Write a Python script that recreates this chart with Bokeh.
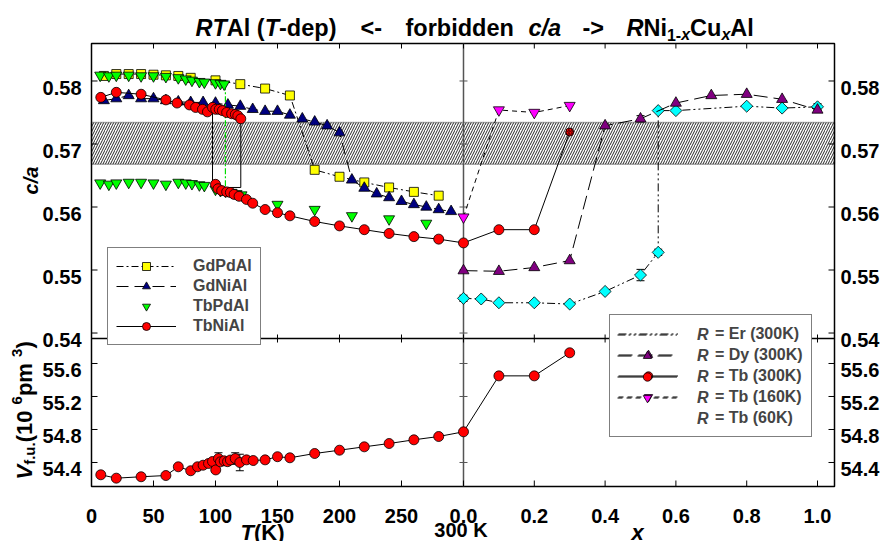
import math
from bokeh.plotting import figure
from bokeh.core.properties import value
from bokeh.models import (Range1d, BoxAnnotation, Legend, LegendItem,
                          ColumnDataSource, Whisker, TeeHead)
from bokeh.embed import file_html
from bokeh.resources import INLINE

# ---------------- data ----------------
# temperature dependence (left part, T in K), c/a
GDPDAL_T = [10, 20, 30, 40, 50, 60, 70, 80, 100, 120, 140, 160, 180, 200, 220, 240, 260, 280]
GDPDAL_CA = [0.5808, 0.5811, 0.5811, 0.5811, 0.5810, 0.5809, 0.5808, 0.5805, 0.5801, 0.5795,
             0.5788, 0.5777, 0.5659, 0.5648, 0.5639, 0.5631, 0.5624, 0.5618]
GDNIAL_T = [10, 20, 30, 40, 50, 60, 70, 80, 90, 100, 110, 120, 130, 140, 150, 160, 170, 180,
            190, 200, 210, 220, 230, 240, 250, 260, 270, 280, 290]
GDNIAL_CA = [0.5769, 0.5772, 0.5777, 0.5772, 0.5772, 0.5769, 0.5767, 0.5766, 0.5766, 0.5765,
             0.5762, 0.5760, 0.5755, 0.5752, 0.5752, 0.5746, 0.5740, 0.5735, 0.5729, 0.5718,
             0.5643, 0.5630, 0.5621, 0.5615, 0.5609, 0.5604, 0.5600, 0.5596, 0.5593]
TBPDAL_HI_T = [7, 14, 20, 30, 40, 50, 60, 70, 76, 81, 87, 91, 100, 104, 107]
TBPDAL_HI_CA = [0.5809, 0.5808, 0.5809, 0.5809, 0.5808, 0.5808, 0.5807, 0.5805, 0.5803, 0.5801,
                0.5799, 0.5798, 0.5797, 0.5796, 0.5795]
TBPDAL_LO_T = [7, 14, 20, 30, 40, 50, 60, 70, 76, 81, 87, 91, 100, 104, 108, 113, 117, 121,
               150, 180, 210, 240, 270]
TBPDAL_LO_CA = [0.5638, 0.5636, 0.5638, 0.5639, 0.5639, 0.5638, 0.5636, 0.5639, 0.5638, 0.5637,
                0.5635, 0.5634, 0.5628, 0.5626, 0.5625, 0.5623, 0.5621, 0.5619, 0.5604, 0.5596,
                0.5586, 0.5581, 0.5574]
TBPDAL_TRANS_T = [108, 108]
TBPDAL_TRANS_CA = [0.5795, 0.5620]
TBNIAL_HI_T = [7.5, 20, 40, 60, 69, 79, 84, 89.5, 93.5, 97.6, 100.2, 103, 105.6, 109, 113, 116,
               118, 120.4]
TBNIAL_HI_CA = [0.5774, 0.5782, 0.5779, 0.5770, 0.5765, 0.5762, 0.5758, 0.5755, 0.5751, 0.5758,
                0.5755, 0.5755, 0.5753, 0.5750, 0.5748, 0.5747, 0.5745, 0.5740]
TBNIAL_LO_T = [100, 102, 105, 109, 112, 115, 119, 125, 130, 140, 150, 160, 180, 200, 220, 240,
               260, 280]
TBNIAL_LO_CA = [0.5636, 0.5629, 0.5626, 0.5624, 0.5623, 0.5620, 0.5617, 0.5612, 0.5606, 0.5596,
                0.5591, 0.5586, 0.5577, 0.5570, 0.5564, 0.5558, 0.5553, 0.5549]
HYST_T = [97.6, 97.6, 120.4, 120.4]
HYST_CA = [0.5758, 0.5631, 0.5631, 0.5740]

# temperature dependence, volume per formula unit (10^6 pm^3)
TBNIAL_V_T = [7.5, 20, 40, 60, 70, 80, 85.5, 90, 94.4, 97.6, 100.2, 102.4, 104, 107, 109.7, 112,
              115.9, 119.6, 125, 130.4, 140, 150, 160, 180, 200, 220, 240, 260, 280]
TBNIAL_V = [54.251, 54.210, 54.227, 54.242, 54.348, 54.300, 54.348, 54.367, 54.388, 54.412,
            54.310, 54.448, 54.408, 54.420, 54.410, 54.430, 54.448, 54.400, 54.432, 54.424,
            54.432, 54.470, 54.457, 54.509, 54.549, 54.590, 54.630, 54.675, 54.715]
TBNIAL_V_ERR = [0, 0, 0, 0, 0, 0, 0, 0, 0, 0, 0, 0.07, 0, 0, 0, 0, 0.07, 0.1, 0, 0, 0, 0, 0, 0,
                0, 0, 0, 0, 0]

# composition dependence RNi(1-x)Cu(x)Al (right part, x)
ER_X = [0, 0.05, 0.1, 0.2, 0.3, 0.4, 0.5, 0.55, 0.55, 0.6, 0.8, 0.9, 1.0]
ER_CA = [0.5455, 0.5454, 0.5448, 0.5448, 0.5446, 0.5466, 0.5492, 0.5528, 0.5753, 0.5753,
         0.5760, 0.5757, 0.5759]
ER_ERR = [0.0005, 0, 0, 0, 0, 0, 0.0009, 0.0005, 0, 0, 0, 0, 0.0005]
DY_X = [0, 0.1, 0.2, 0.3, 0.4, 0.5, 0.6, 0.7, 0.8, 0.9, 1.0]
DY_CA = [0.5499, 0.5498, 0.5504, 0.5515, 0.5729, 0.5740, 0.5765, 0.5777, 0.5779, 0.5771, 0.5754]
DY_ERR = [0, 0, 0, 0, 0, 0.0005, 0, 0, 0, 0, 0]
TB300_X = [0, 0.1, 0.2, 0.3]
TB300_CA = [0.5543, 0.5564, 0.5564, 0.5719]
TB300_V = [54.772, 55.45, 55.45, 55.73]
TB160_X = [0, 0.1, 0.2, 0.3]
TB160_CA = [0.5584, 0.5754, 0.5750, 0.5761]
TB60_X = [0, 0.02, 0.05, 0.1, 0.2, 0.3, 0.4, 0.5, 0.6, 0.7, 0.8, 0.9, 1.0]
TB60_CA = [0.5766, 0.5777, 0.5774, 0.5769, 0.5761, 0.5780, 0.5766, 0.5783, 0.5766, 0.5779,
           0.5762, 0.5756, 0.5749]

# forbidden c/a band
BAND_CA = [0.5668, 0.5734]

# ticks
T_TICKS = [0, 50, 100, 150, 200, 250]
X_TICKS = [0.0, 0.2, 0.4, 0.6, 0.8, 1.0]
CA_TICKS = [0.54, 0.55, 0.56, 0.57, 0.58]
V_TICKS = [54.4, 54.8, 55.2, 55.6]

# ---------------- geometry (canvas px; the page adds an 8 px margin) ----------------
CA_LO, CA_HI = 0.53913, 0.58595      # upper panel limits
V_LO, V_HI = 54.109, 55.903          # lower panel limits
H_UP, H_LO = 295, 148                # panel heights (px)
T_END = 300                          # x = 0 sits at 300 K
KX = 285.5                           # T-axis units per unit of x (broken axis)
U_MAX = 599.2
W, H = 880, 541
BOX_L, BOX_R, BOX_T, BOX_B = 91, 834, 43, 486   # plot box in canvas px


def xu(xs):
    return [round(T_END + KX * v, 4) for v in xs]


Y0 = CA_LO - (CA_HI - CA_LO) * H_LO / H_UP
V1 = V_HI + (V_HI - V_LO) * H_UP / H_LO
KXP = U_MAX / (BOX_R - BOX_L)
KYP = (CA_HI - Y0) / (BOX_B - BOX_T)
KVP = (V1 - V_LO) / (BOX_B - BOX_T)


def px_u(px):
    return (px - BOX_L) * KXP


def py_ca(py):
    return CA_HI + (BOX_T - py) * KYP


FONT = "Liberation Sans"
p = figure(width=W, height=H, title=None,
           x_range=Range1d(-BOX_L * KXP, U_MAX + (W - BOX_R) * KXP),
           y_range=Range1d(Y0 - (H - BOX_B) * KYP, CA_HI + BOX_T * KYP),
           output_backend="svg", toolbar_location=None,
           x_axis_location=None, y_axis_location=None,
           min_border=0, min_border_left=0, min_border_right=0, min_border_top=0,
           min_border_bottom=0)
p.extra_y_ranges = {"V": Range1d(V_LO - (H - BOX_B) * KVP, V1 + BOX_T * KVP)}
p.xgrid.visible = False
p.ygrid.visible = False
p.outline_line_color = None
p.background_fill_color = "white"
p.border_fill_color = "white"

# forbidden band
p.add_layout(BoxAnnotation(left=0, right=U_MAX, bottom=BAND_CA[0], top=BAND_CA[1],
                           fill_color=None, hatch_pattern="/", hatch_color="#111111",
                           hatch_alpha=1.0, hatch_scale=5, hatch_weight=0.9,
                           line_color="black", line_width=1.5, level="underlay"))

# ---------------- frame, divider, ticks, tick labels ----------------
p.quad(left=[0], right=[U_MAX], bottom=[Y0], top=[CA_HI], fill_color=None,
       line_color="black", line_width=1.5)
p.segment(x0=[0], x1=[U_MAX], y0=[CA_LO], y1=[CA_LO], line_color="black", line_width=1.5)
p.segment(x0=[T_END], x1=[T_END], y0=[Y0], y1=[CA_HI], line_color="#555555", line_width=1.5)

xt = T_TICKS + xu(X_TICKS)
xl = [str(t) for t in T_TICKS] + [f"{v:.1f}" for v in X_TICKS]
TK = dict(length_units="screen", line_color="black", line_width=1)
p.ray(x=xt, y=[Y0] * len(xt), length=6, angle=math.pi / 2, **TK)
p.ray(x=xt, y=[CA_HI] * len(xt), length=5, angle=-math.pi / 2, **TK)
p.ray(x=xt, y=[CA_LO] * len(xt), length=4, angle=math.pi / 2, **TK)
p.ray(x=xt, y=[CA_LO] * len(xt), length=4, angle=-math.pi / 2, **TK)
for yr, ticks in [(None, CA_TICKS), ("V", V_TICKS)]:
    kw = {"y_range_name": yr} if yr else {}
    p.ray(x=[0] * len(ticks), y=ticks, length=6, angle=0, **TK, **kw)
    p.ray(x=[U_MAX] * len(ticks), y=ticks, length=6, angle=math.pi, **TK, **kw)
    p.ray(x=[T_END] * len(ticks), y=ticks, length=4, angle=0, length_units="screen",
          line_color="#555555", line_width=1, **kw)
    p.ray(x=[T_END] * len(ticks), y=ticks, length=4, angle=math.pi, length_units="screen",
          line_color="#555555", line_width=1, **kw)

LAB = dict(text_font=value(FONT), text_font_size=value("20px"), text_font_style="bold",
           text_color="black", text_baseline="alphabetic")
p.text(x=xt, y=[Y0 - 29 * KYP] * len(xt), text=xl, text_align="center", **LAB)
for xpx, al in [(BOX_L - 10, "right"), (BOX_R + 6, "left")]:
    p.text(x=[px_u(xpx)] * len(CA_TICKS), y=[c - 7 * KYP for c in CA_TICKS],
           text=[f"{c:.2f}" for c in CA_TICKS], text_align=al, **LAB)
    p.text(x=[px_u(xpx)] * len(V_TICKS), y=[v - 7 * KVP for v in V_TICKS],
           text=[f"{v:.1f}" for v in V_TICKS], text_align=al, y_range_name="V", **LAB)


def errbars(us, ys, es, yr=None):
    sel = [(u, y, e) for u, y, e in zip(us, ys, es) if e > 0]
    src = ColumnDataSource(dict(u=[s[0] for s in sel], lo=[s[1] - s[2] for s in sel],
                                hi=[s[1] + s[2] for s in sel]))
    kw = dict(source=src, base="u", lower="lo", upper="hi", dimension="height",
              line_color="black", line_width=1,
              upper_head=TeeHead(size=8, line_color="black", line_width=1),
              lower_head=TeeHead(size=8, line_color="black", line_width=1))
    if yr:
        kw["y_range_name"] = yr
    p.add_layout(Whisker(**kw))


def ln(xs, ys, dash="solid", color="black", width=1.0, yr=None):
    kw = dict(line_color=color, line_width=width, line_dash=dash)
    if yr:
        kw["y_range_name"] = yr
    return p.line(xs, ys, **kw)


def pts(xs, ys, marker, fill, size, angle=0.0, yr=None, **extra):
    kw = dict(marker=marker, size=size, fill_color=fill, line_color="black",
              line_width=0.8, angle=angle)
    kw.update(extra)
    if yr:
        kw["y_range_name"] = yr
    return p.scatter(xs, ys, **kw)


# ---------------- T-dependence ----------------
l_gdpd = ln(GDPDAL_T, GDPDAL_CA, dash="7 3 2 3")
s_gdpd = pts(GDPDAL_T, GDPDAL_CA, "square", "#FFFF00", 9)
l_gdni = ln(GDNIAL_T, GDNIAL_CA, dash="12 6")
s_gdni = pts(GDNIAL_T, GDNIAL_CA, "triangle", "#000080", 11)
ln(TBPDAL_TRANS_T, TBPDAL_TRANS_CA, dash="6 2 2 2", color="#00DD00", width=1.2)
s_tbpd = pts(TBPDAL_HI_T, TBPDAL_HI_CA, "inverted_triangle", "#00FF00", 11)
pts(TBPDAL_LO_T, TBPDAL_LO_CA, "inverted_triangle", "#00FF00", 11)
ln(HYST_T, HYST_CA)
l_tbni = ln(TBNIAL_HI_T, TBNIAL_HI_CA)
ln(TBNIAL_LO_T + xu(TB300_X), TBNIAL_LO_CA + TB300_CA)
s_tbni = pts(TBNIAL_HI_T, TBNIAL_HI_CA, "circle", "#FF0000", 10)
pts(TBNIAL_LO_T, TBNIAL_LO_CA, "circle", "#FF0000", 10)

# volume
errbars(TBNIAL_V_T, TBNIAL_V, TBNIAL_V_ERR, yr="V")
ln(TBNIAL_V_T + xu(TB300_X), TBNIAL_V + TB300_V, yr="V")
pts(TBNIAL_V_T, TBNIAL_V, "circle", "#FF0000", 10, yr="V")
pts(xu(TB300_X), TB300_V, "circle", "#FF0000", 10, yr="V")

# ---------------- x-dependence ----------------
errbars(xu(ER_X), ER_CA, ER_ERR)
errbars(xu(DY_X), DY_CA, DY_ERR)
l_er = ln(xu(ER_X), ER_CA, dash="8 3 2 3 2 3")
pts(xu(ER_X), ER_CA, "square", "#00FFFF", 8.5, angle=math.pi / 4)
s_er = pts([], [], "diamond", "#00FFFF", 12)          # legend symbol only
l_dy = ln(xu(DY_X), DY_CA, dash="14 6")
s_dy = pts(xu(DY_X), DY_CA, "triangle", "#800080", 11)
s_tb3 = pts(xu(TB300_X[:3]), TB300_CA[:3], "circle", "#FF0000", 10)
pts(xu(TB300_X[3:]), TB300_CA[3:], "circle", "#FF0000", 8, hatch_pattern="/",
    hatch_color="black", hatch_scale=3, hatch_weight=0.7)
l_tb1 = ln(xu(TB160_X), TB160_CA, dash="5 4")
s_tb1 = pts(xu(TB160_X), TB160_CA, "inverted_triangle", "#FF00FF", 11)
s_tb6 = pts(xu(TB60_X), TB60_CA, "hexagon", "white", 10, angle=math.pi / 2)

# ---------------- legends ----------------
LEG = dict(label_text_font=FONT, label_text_font_size="16px",
           border_line_color="black", border_line_width=1, background_fill_color="white",
           background_fill_alpha=1, padding=8, margin=0, spacing=0, glyph_width=60)
p.add_layout(Legend(items=[LegendItem(label="GdPdAl", renderers=[l_gdpd, s_gdpd]),
                           LegendItem(label="GdNiAl", renderers=[l_gdni, s_gdni]),
                           LegendItem(label="TbPdAl", renderers=[s_tbpd]),
                           LegendItem(label="TbNiAl", renderers=[l_tbni, s_tbni])],
                    location=(107, H - 345), glyph_height=20, label_height=20,
                    label_standoff=17, label_text_font_style="bold", **LEG))
R_ITEMS = [("= Er (300K)", [l_er, s_er]), ("= Dy (300K)", [l_dy, s_dy]),
           ("= Tb (300K)", [l_tbni, s_tb3]), ("= Tb (160K)", [l_tb1, s_tb1]),
           ("= Tb (60K)", [s_tb6])]
p.add_layout(Legend(items=[LegendItem(label=s, renderers=r) for s, r in R_ITEMS],
                    location=(609, H - 437), glyph_height=21, label_height=21,
                    label_standoff=37, label_text_font_style="bold", **LEG))
# italic "R" in front of the labels: an exact overlay legend without box
ov = dict(LEG)
ov.update(border_line_alpha=0, background_fill_alpha=0)
p.add_layout(Legend(items=[LegendItem(label="R", renderers=r) for s, r in R_ITEMS],
                    location=(609, H - 437), glyph_height=21, label_height=21,
                    label_standoff=20, label_text_font_style="bold italic", **ov))


# ---------------- free texts (placed at canvas px, drawn as text glyphs) ----------------
def txt(x, y, s, size, style="bold", align="left", angle=0.0):
    p.text(x=[px_u(x)], y=[py_ca(y)], text=[s], text_font=value(FONT),
           text_font_size=value(f"{size}px"), text_font_style=style, text_align=align,
           text_baseline="alphabetic", angle=angle, text_color="black")


WD = {'R': 722, 'T': 611, 'A': 722, 'l': 278, ' ': 278, '(': 333, ')': 333, '-': 333,
      'd': 611, 'e': 556, 'p': 611, '<': 584, '>': 584, 'f': 333, 'o': 611, 'r': 389,
      'b': 611, 'i': 278, 'n': 611, 'c': 556, '/': 278, 'a': 556, 'N': 722, '1': 556,
      'x': 556, 'C': 722, 'u': 611, 'V': 667, '.': 278, '0': 556, '6': 556, 'm': 889,
      '3': 556, 'K': 722}


def width(s, size):
    return sum(WD[c] for c in s) * size / 1000.0


# title
BI, B = "bold italic", "bold"
xx = 0.0
for s, x0, st, sub in [("R", 195, BI, 0), ("T", None, BI, 0), ("Al (", None, B, 0),
                       ("T", None, BI, 0), ("-dep)", None, B, 0), ("<-", 360, B, 0),
                       ("forbidden", 405, B, 0), ("c/a", 528, BI, 0), ("->", 582, B, 0),
                       ("R", 626, BI, 0), ("Ni", None, B, 0), ("1-", None, B, 1),
                       ("x", None, BI, 1), ("Cu", None, B, 0), ("x", None, BI, 1),
                       ("Al", None, B, 0)]:
    if x0 is not None:
        xx = x0
    sz = 16 if sub else 23.5
    txt(xx, 27 + (7 if sub else 0), s, sz, style=st)
    xx += width(s, sz)

# y-axis titles (rotated)
txt(30, 180, "c/a", 20, style=BI, align="center", angle=math.pi / 2)
yy = 479.0
for s, st, sz, dx in [("V", BI, 22, 0), ("f.u.", B, 15, 5), (" (10", B, 22, 0),
                      ("6", B, 15, -8), (" pm", B, 22, 0), ("3", B, 15, -8), (")", B, 22, 0)]:
    txt(24 + dx, yy, s, sz, style=st, angle=math.pi / 2)
    yy -= width(s, sz)

# x-axis titles
txt(240, 532, "T", 22, style=BI)
txt(240 + width("T", 22), 532, " (K)", 22)
txt(460.5, 529, "300 K", 20, align="center")
txt(637, 532, "x", 22, style=BI, align="center")

open("out.html", "w").write(file_html(p, INLINE))
